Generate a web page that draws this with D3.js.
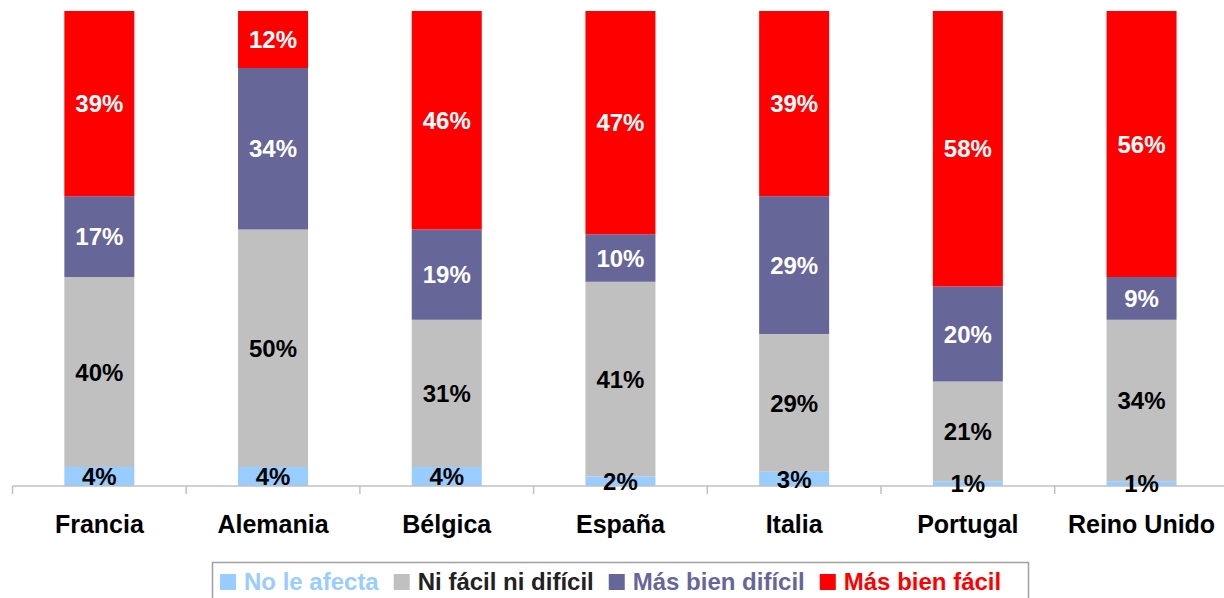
<!DOCTYPE html>
<html>
<head>
<meta charset="utf-8">
<script src="https://cdn.jsdelivr.net/npm/d3@7"></script>
<style>
  body { margin: 0; background: #fff; }
  svg { display: block; font-family: "Liberation Sans", Arial, sans-serif; }
</style>
</head>
<body>
<div id="graph"></div>
<script>
// data
const paises = ["Francia", "Alemania", "Bélgica", "España", "Italia", "Portugal", "Reino Unido"];
const series = ["No le afecta", "Ni fácil ni difícil", "Más bien difícil", "Más bien fácil"];
const noLeAfecta = [4, 4, 4, 2, 3, 1, 1];
const niFacil = [40, 50, 31, 41, 29, 21, 34];
const masBienDificil = [17, 34, 19, 10, 29, 20, 9];
const masBienFacil = [39, 12, 46, 47, 39, 58, 56];

const colores = ["#99ccff", "#c0c0c0", "#666699", "#ff0000"];
const colorEtiqueta = ["#000", "#000", "#fff", "#fff"];
const colorLeyenda = ["#99ccff", "#222", "#666699", "#ff0000"];

const width = 1224, height = 598;

let rows = paises.map((p, i) => ({
  pais: p,
  "No le afecta": noLeAfecta[i],
  "Ni fácil ni difícil": niFacil[i],
  "Más bien difícil": masBienDificil[i],
  "Más bien fácil": masBienFacil[i]
}));

let stacked = d3.stack().keys(series)(rows);

let xscale = d3.scaleBand()
               .domain(paises)
               .range([12.5, 12.5 + 7 * 173.7])
               .padding(0);

let yscale = d3.scaleLinear()
               .domain([0, 100])
               .range([486, 11]);

let barW = 70;

let chart = d3.select("#graph")
              .append("svg")
                .attr("width", width)
                .attr("height", height);

// bars
let grupos = chart.selectAll("g.serie")
     .data(stacked)
     .enter()
     .append("g")
       .attr("class", "serie")
       .attr("fill", (d, i) => colores[i]);

grupos.selectAll("rect")
     .data(d => d)
     .enter()
     .append("rect")
       .attr("x", d => xscale(d.data.pais) + xscale.bandwidth() / 2 - barW / 2)
       .attr("y", d => yscale(d[1]))
       .attr("width", barW)
       .attr("height", d => yscale(d[0]) - yscale(d[1]));

// axis
let x_axis = d3.axisBottom(xscale).tickSize(0).tickFormat("");
let ax = chart.append("g")
     .attr("transform", "translate(0,485.5)")
     .call(x_axis);
ax.select(".domain").attr("stroke", "#c0c0c0").attr("stroke-width", 1.5);

// tick marks between categories
let bordes = paises.map(p => xscale(p)).concat([xscale.range()[1]]);
chart.selectAll("line.tick-sep")
     .data(bordes)
     .enter()
     .append("line")
       .attr("x1", d => d).attr("x2", d => d)
       .attr("y1", 485.5).attr("y2", 494)
       .attr("stroke", "#c0c0c0")
       .attr("stroke-width", 1.5);

// category labels
chart.selectAll("text.cat")
     .data(paises)
     .enter()
     .append("text")
       .attr("x", d => xscale(d) + xscale.bandwidth() / 2)
       .attr("y", 533)
       .attr("text-anchor", "middle")
       .attr("font-size", 25)
       .attr("font-weight", "bold")
       .attr("fill", "#000")
       .text(d => d);

// value labels
stacked.forEach((s, i) => {
  chart.selectAll("text.v" + i)
       .data(s)
       .enter()
       .append("text")
         .attr("x", d => xscale(d.data.pais) + xscale.bandwidth() / 2)
         .attr("y", d => yscale((d[0] + d[1]) / 2))
         .attr("dy", "0.36em")
         .attr("text-anchor", "middle")
         .attr("font-size", 24)
         .attr("font-weight", "bold")
         .attr("fill", colorEtiqueta[i])
         .text(d => (d[1] - d[0]) + "%");
});

// legend
chart.append("rect")
     .attr("x", 212.5).attr("y", 562.5)
     .attr("width", 816).attr("height", 50)
     .attr("fill", "#fff")
     .attr("stroke", "#a0a0a0")
     .attr("stroke-width", 1.5);

let lx = 220;
series.forEach((s, i) => {
  chart.append("rect")
       .attr("x", lx).attr("y", 574)
       .attr("width", 16).attr("height", 16)
       .attr("fill", colores[i]);
  let t = chart.append("text")
       .attr("x", lx + 24)
       .attr("y", 590)
       .attr("font-size", 24)
       .attr("font-weight", "bold")
       .attr("fill", colorLeyenda[i])
       .text(s);
  lx += 24 + t.node().getComputedTextLength() + 15;
});
</script>
</body>
</html>
